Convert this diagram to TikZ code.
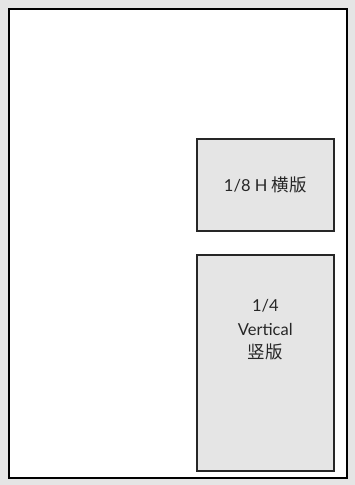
\documentclass[tikz,border=0pt]{standalone}
\usepackage{fontspec}
\setmainfont{Lato}
\newfontfamily\cjk{Noto Sans CJK SC}
\begin{document}
\begin{tikzpicture}[x=1pt,y=-1pt,
  frame/.style={draw=black,line width=2pt,fill=white},
  panel/.style={draw=black!85,line width=1.6pt,fill=black!10,inner sep=0pt},
  lbl/.style={font=\fontsize{16.5}{23.5}\selectfont,text=black!85,align=center}]
\fill[black!10] (0,0) rectangle (355,485);
\useasboundingbox (0,0) rectangle (355,485);
\node[frame,minimum width=338pt,minimum height=469pt,anchor=north west] (page) at (8,8) {};
\node[panel,minimum width=137pt,minimum height=92pt,anchor=north west] (h8) at (196,138) {};
\node[panel,minimum width=137pt,minimum height=216pt,anchor=north west] (v4) at (196,254) {};
\node[lbl] (h8t) at (h8.center) {1/8 H {\cjk\fontsize{17.5}{23.5}\selectfont 横版}};
\node[lbl] (v4t) at ([yshift=33pt]v4.center) {1/4\\Vertical\\{\cjk\fontsize{17.5}{23.5}\selectfont 竖版}};
\end{tikzpicture}
\end{document}
